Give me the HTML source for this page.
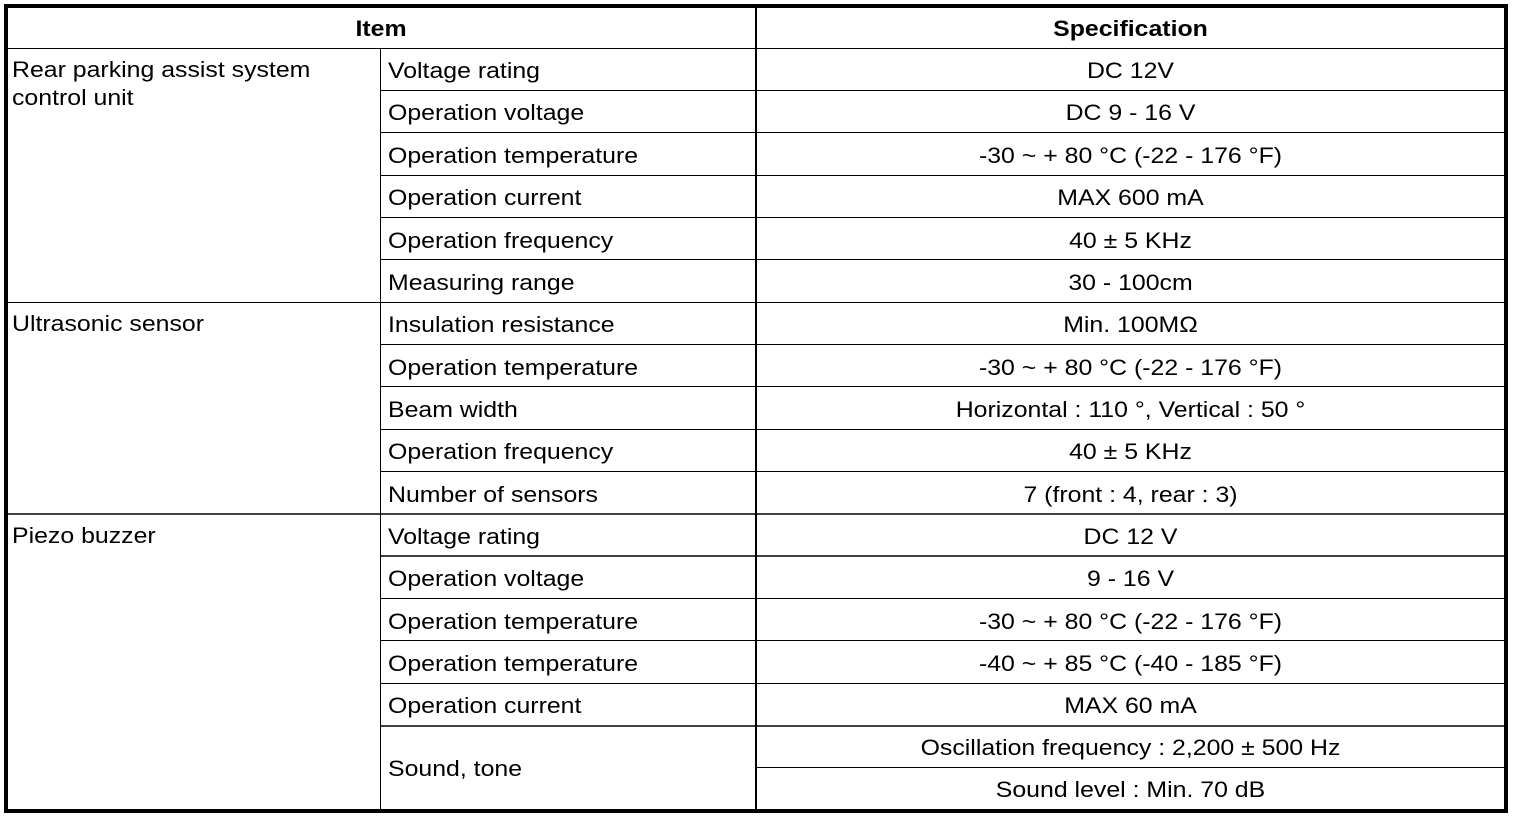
<!DOCTYPE html>
<html>
<head>
<meta charset="utf-8">
<style>
html,body{margin:0;padding:0;background:#fff;}
svg{display:block;}
text{font-family:"Liberation Sans",Arial,Helvetica,sans-serif;font-size:22px;fill:#000;}
.b{font-weight:bold;}
</style>
</head>
<body>
<svg width="1520" height="818" viewBox="0 0 1520 818" xmlns="http://www.w3.org/2000/svg">
<rect x="0" y="0" width="1520" height="818" fill="#fff"/>
<g stroke="#000" stroke-width="1">
<line x1="4" y1="48.5" x2="1508" y2="48.5"/>
<line x1="380" y1="90.5" x2="1508" y2="90.5"/>
<line x1="380" y1="132.5" x2="1508" y2="132.5"/>
<line x1="380" y1="175.5" x2="1508" y2="175.5"/>
<line x1="380" y1="217.5" x2="1508" y2="217.5"/>
<line x1="380" y1="259.5" x2="1508" y2="259.5"/>
<line x1="4" y1="302.5" x2="1508" y2="302.5"/>
<line x1="380" y1="344.5" x2="1508" y2="344.5"/>
<line x1="380" y1="386.5" x2="1508" y2="386.5"/>
<line x1="380" y1="429.5" x2="1508" y2="429.5"/>
<line x1="380" y1="471.5" x2="1508" y2="471.5"/>
<line x1="4" y1="514" x2="1508" y2="514" stroke-width="1.5"/>
<line x1="380" y1="556" x2="1508" y2="556" stroke-width="1.5"/>
<line x1="380" y1="598.5" x2="1508" y2="598.5"/>
<line x1="380" y1="640.5" x2="1508" y2="640.5"/>
<line x1="380" y1="683.5" x2="1508" y2="683.5"/>
<line x1="380" y1="726" x2="1508" y2="726" stroke-width="1.5"/>
<line x1="756" y1="767.5" x2="1508" y2="767.5"/>
<line x1="380.5" y1="48" x2="380.5" y2="813"/>
</g>
<rect x="755" y="4" width="2" height="809" fill="#000"/>
<rect x="6" y="6" width="1500" height="805" fill="none" stroke="#000" stroke-width="4"/>

<g transform="translate(381 36) scale(1.13 1)"><text class="b" text-anchor="middle">Item</text></g>
<g transform="translate(1130.5 36) scale(1.13 1)"><text class="b" text-anchor="middle">Specification</text></g>

<g transform="translate(12 77) scale(1.13 1)"><text>Rear parking assist system</text></g>
<g transform="translate(12 105) scale(1.13 1)"><text>control unit</text></g>
<g transform="translate(12 331) scale(1.13 1)"><text>Ultrasonic sensor</text></g>
<g transform="translate(12 543) scale(1.13 1)"><text>Piezo buzzer</text></g>

<g transform="translate(388 78) scale(1.13 1)"><text>Voltage rating</text></g>
<g transform="translate(388 120) scale(1.13 1)"><text>Operation voltage</text></g>
<g transform="translate(388 163) scale(1.13 1)"><text>Operation temperature</text></g>
<g transform="translate(388 205) scale(1.13 1)"><text>Operation current</text></g>
<g transform="translate(388 248) scale(1.13 1)"><text>Operation frequency</text></g>
<g transform="translate(388 290) scale(1.13 1)"><text>Measuring range</text></g>
<g transform="translate(388 332) scale(1.13 1)"><text>Insulation resistance</text></g>
<g transform="translate(388 375) scale(1.13 1)"><text>Operation temperature</text></g>
<g transform="translate(388 417) scale(1.13 1)"><text>Beam width</text></g>
<g transform="translate(388 459) scale(1.13 1)"><text>Operation frequency</text></g>
<g transform="translate(388 502) scale(1.13 1)"><text>Number of sensors</text></g>
<g transform="translate(388 544) scale(1.13 1)"><text>Voltage rating</text></g>
<g transform="translate(388 586) scale(1.13 1)"><text>Operation voltage</text></g>
<g transform="translate(388 629) scale(1.13 1)"><text>Operation temperature</text></g>
<g transform="translate(388 671) scale(1.13 1)"><text>Operation temperature</text></g>
<g transform="translate(388 713) scale(1.13 1)"><text>Operation current</text></g>
<g transform="translate(388 776) scale(1.13 1)"><text>Sound, tone</text></g>

<g transform="translate(1130.5 78) scale(1.13 1)"><text text-anchor="middle">DC 12V</text></g>
<g transform="translate(1130.5 120) scale(1.13 1)"><text text-anchor="middle">DC 9 - 16 V</text></g>
<g transform="translate(1130.5 163) scale(1.13 1)"><text text-anchor="middle">-30 ~ + 80 °C (-22 - 176 °F)</text></g>
<g transform="translate(1130.5 205) scale(1.13 1)"><text text-anchor="middle">MAX 600 mA</text></g>
<g transform="translate(1130.5 248) scale(1.13 1)"><text text-anchor="middle">40 ± 5 KHz</text></g>
<g transform="translate(1130.5 290) scale(1.13 1)"><text text-anchor="middle">30 - 100cm</text></g>
<g transform="translate(1130.5 332) scale(1.13 1)"><text text-anchor="middle">Min. 100MΩ</text></g>
<g transform="translate(1130.5 375) scale(1.13 1)"><text text-anchor="middle">-30 ~ + 80 °C (-22 - 176 °F)</text></g>
<g transform="translate(1130.5 417) scale(1.13 1)"><text text-anchor="middle">Horizontal : 110 °, Vertical : 50 °</text></g>
<g transform="translate(1130.5 459) scale(1.13 1)"><text text-anchor="middle">40 ± 5 KHz</text></g>
<g transform="translate(1130.5 502) scale(1.13 1)"><text text-anchor="middle">7 (front : 4, rear : 3)</text></g>
<g transform="translate(1130.5 544) scale(1.13 1)"><text text-anchor="middle">DC 12 V</text></g>
<g transform="translate(1130.5 586) scale(1.13 1)"><text text-anchor="middle">9 - 16 V</text></g>
<g transform="translate(1130.5 629) scale(1.13 1)"><text text-anchor="middle">-30 ~ + 80 °C (-22 - 176 °F)</text></g>
<g transform="translate(1130.5 671) scale(1.13 1)"><text text-anchor="middle">-40 ~ + 85 °C (-40 - 185 °F)</text></g>
<g transform="translate(1130.5 713) scale(1.13 1)"><text text-anchor="middle">MAX 60 mA</text></g>
<g transform="translate(1130.5 755) scale(1.13 1)"><text text-anchor="middle">Oscillation frequency : 2,200 ± 500 Hz</text></g>
<g transform="translate(1130.5 797) scale(1.13 1)"><text text-anchor="middle">Sound level : Min. 70 dB</text></g>
</svg>
</body>
</html>
